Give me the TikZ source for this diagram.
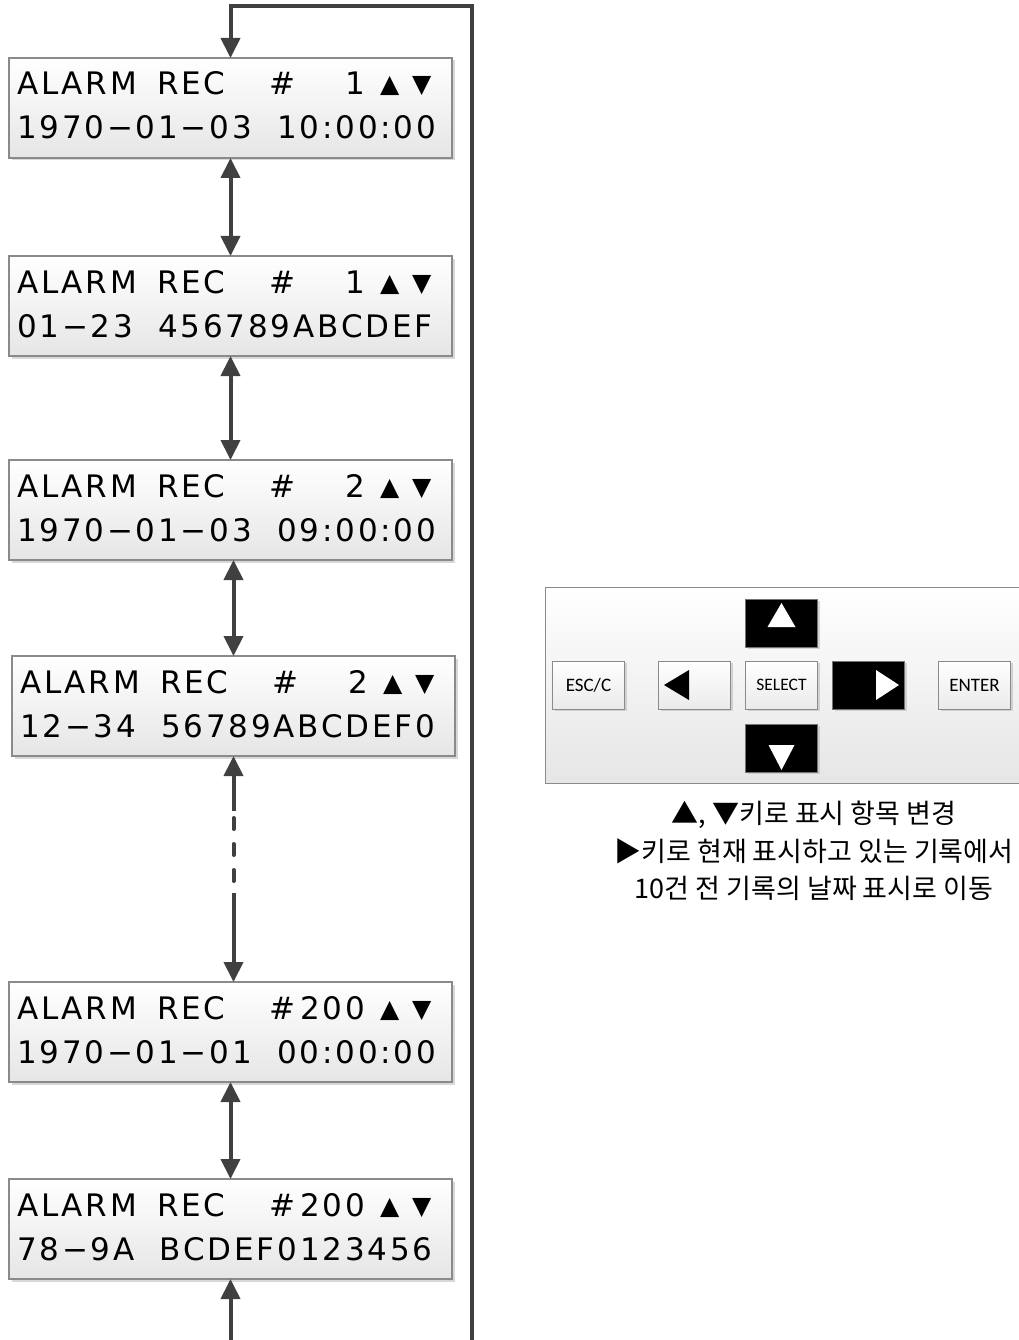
\documentclass[tikz,border=0pt]{standalone}
\usepackage{fontspec}
\setmainfont{Liberation Sans}
\newfontfamily\lcdfont[LetterSpace=9]{DejaVu Sans}
\newfontfamily\keyfont{Carlito}
\newfontfamily\krfont{Noto Sans CJK KR}
\newfontfamily\symfont{DejaVu Sans}
\usetikzlibrary{positioning, arrows.meta, calc, shadows}
\definecolor{linkgray}{HTML}{404040}
\definecolor{framegray}{HTML}{8A8A8A}
\tikzset{
  screen/.style={draw=framegray, line width=1.2pt, top color=white, bottom color=black!10,
    minimum width=443pt, minimum height=100pt, inner sep=0pt, outer sep=0pt,
    drop shadow={shadow xshift=2.5pt, shadow yshift=-2.5pt, fill=black!30, opacity=.5}},
  lcd/.style={anchor=base west, inner sep=0pt, font=\lcdfont\fontsize{31}{31}\selectfont},
  lcdnum/.style={anchor=base east, inner sep=0pt, font=\lcdfont\fontsize{31}{31}\selectfont},
  lcdsym/.style={anchor=base west, inner sep=0pt, font=\symfont\fontsize{25}{25}\selectfont},
  link/.style={draw=linkgray, line width=4pt, >={Triangle[length=20pt,width=19pt]}},
  panel/.style={draw=framegray, line width=1pt, top color=white, bottom color=black!10, inner sep=0pt},
  basekey/.style={minimum width=72pt, minimum height=48pt, inner sep=0pt, outer sep=0pt, line width=1pt,
    font=\keyfont\fontsize{19}{19}\selectfont,
    drop shadow={shadow xshift=2pt, shadow yshift=-2pt, fill=black!30, opacity=.5}},
  key/.style={basekey, draw=framegray, top color=white, bottom color=black!8},
  darkkey/.style={basekey, draw=black!55, fill=black}
}
\begin{document}
\begin{tikzpicture}[x=1pt, y=-1pt]
\useasboundingbox (0,0) rectangle (1018,1340);
% record screens
\node[screen, anchor=north west] (r1a) at (9,58) {};
\node[screen, below=98pt of r1a] (r1b) {};
\node[screen, below=104pt of r1b] (r2a) {};
\node[screen, below=96pt of r2a, xshift=3pt] (r2b) {};
\node[screen, below=226pt of r2b, xshift=-3pt] (r200a) {};
\node[screen, below=97pt of r200a] (r200b) {};
\foreach \bx/\num/\stamp in {r1a/1/{1970−01−03~ 10:00:00}, r1b/1/{01−23~ 456789ABCDEF},
    r2a/2/{1970−01−03~ 09:00:00}, r2b/2/{12−34~ 56789ABCDEF0},
    r200a/200/{1970−01−01~ 00:00:00}, r200b/200/{78−9A~ BCDEF0123456}} {
  \node[lcd] (\bx-alarm) at ($(\bx.north west)+(8,37)$) {ALARM};
  \node[lcd] (\bx-rec) at ($(\bx.north west)+(148,37)$) {REC};
  \node[lcd] (\bx-hash) at ($(\bx.north west)+(260,37)$) {\#};
  \node[lcdnum] (\bx-num) at ($(\bx.north west)+(356,37)$) {\num};
  \node[lcdsym] (\bx-up) at ($(\bx.north west)+(371,35)$) {▲};
  \node[lcdsym] (\bx-down) at ($(\bx.north west)+(403,35)$) {▼};
  \node[lcd] (\bx-stamp) at ($(\bx.north west)+(8,81)$) {\stamp};
}
% connectors
\coordinate (loopBottom) at (472,1346);
\coordinate (loopCorner) at (472,6);
\draw[link,->] (loopBottom) -- (loopCorner) -| (r1a.north);
\draw[link,<->] (r1a) -- (r1b);
\draw[link,<->] (r1b) -- (r2a);
\draw[link,<->] (r2a.south -| r2b.north) -- (r2b.north);
\coordinate (gapTop) at ($(r2b.south)+(0,55)$);
\coordinate (gapBottom) at ($(r2b.south)+(0,137)$);
\draw[link,<-] (r2b.south) -- (gapTop);
\draw[link, line cap=round, dash pattern=on 11pt off 15pt, dash phase=19pt] (gapTop) -- (gapBottom);
\draw[link,->] (gapBottom) -- (r200a.north -| gapBottom);
\draw[link,<->] (r200a) -- (r200b);
\coordinate (entryBottom) at (r200b.south |- loopBottom);
\draw[link,->] (entryBottom) -- (r200b.south);
% key pad
\node[panel, anchor=north west, minimum width=485pt, minimum height=196pt] (keypad) at (545,587) {};
\node[key, font=\keyfont\fontsize{17.5}{17.5}\selectfont] (kSelect) at (781.5,685) {SELECT};
\node[darkkey, above=14pt of kSelect] (kUp) {};
\node[darkkey, below=15pt of kSelect] (kDown) {};
\node[key, left=15pt of kSelect] (kLeft) {};
\node[darkkey, right=15pt of kSelect] (kRight) {};
\node[key, left=34pt of kLeft] (kEsc) {ESC/C};
\node[key, right=34pt of kRight] (kEnter) {ENTER};
\fill[white] ($(kUp.center)+(-14,4)$) -- ($(kUp.center)+(14,4)$) -- ($(kUp.center)+(0,-20)$) -- cycle;
\fill[white] ($(kDown.center)+(-13,-3)$) -- ($(kDown.center)+(13,-3)$) -- ($(kDown.center)+(0,22)$) -- cycle;
\fill[black] ($(kLeft.center)+(-5.5,-15)$) -- ($(kLeft.center)+(-5.5,15)$) -- ($(kLeft.center)+(-30.5,0)$) -- cycle;
\fill[white] ($(kRight.center)+(7.5,-15)$) -- ($(kRight.center)+(7.5,15)$) -- ($(kRight.center)+(30.5,0)$) -- cycle;
\node[font=\krfont\fontsize{27}{37.5}\selectfont, align=center] (keynote) at (814,851)
  {▲, ▼키로 표시 항목 변경\\▶키로 현재 표시하고 있는 기록에서\\10건 전 기록의 날짜 표시로 이동};
\end{tikzpicture}
\end{document}
